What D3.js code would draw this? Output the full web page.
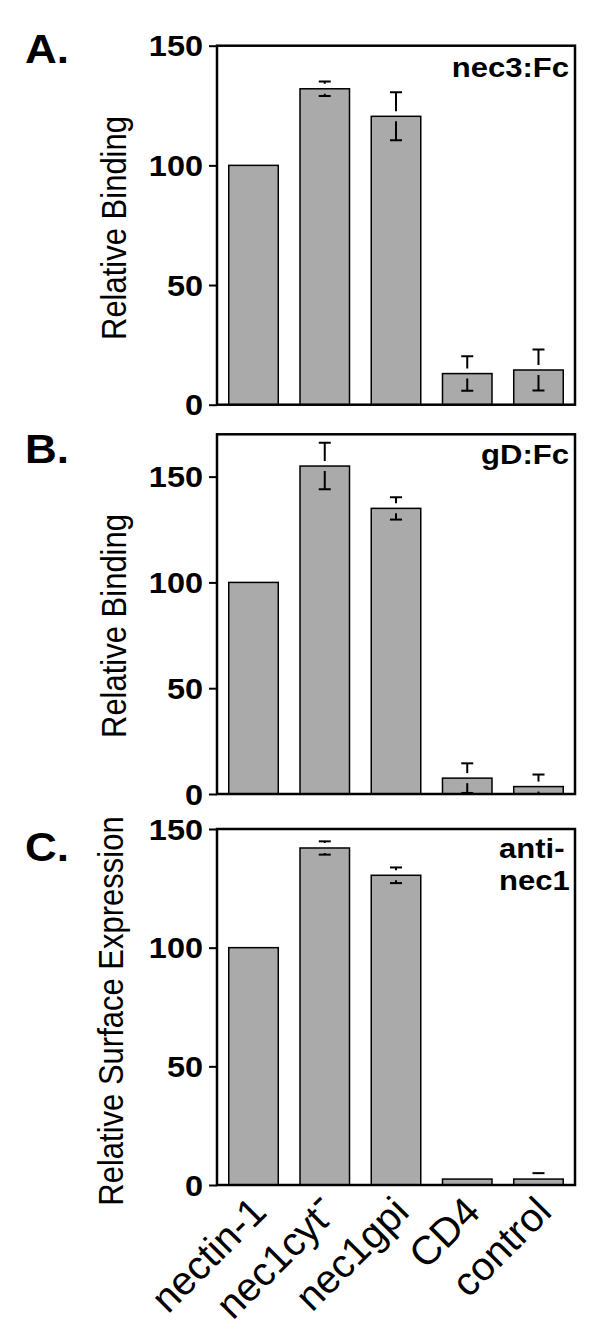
<!DOCTYPE html>
<html>
<head>
<meta charset="utf-8">
<script src="https://cdn.jsdelivr.net/npm/d3@7"></script>
<style>
  html, body { margin: 0; padding: 0; background: #fff; }
  svg { display: block; font-family: "Liberation Sans", Arial, Helvetica, sans-serif; }
</style>
</head>
<body>
<svg id="chart" width="605" height="1336"></svg>
<script>
// ---------- data ----------
const categories = ["nectin-1", "nec1cyt-", "nec1gpi", "CD4", "control"];
const yTicks = [0, 50, 100, 150];

const valuesA = [100, 132, 120.5, 13, 14.5];
const errorsA = [0, 3, 10, 7.2, 8.6];
const valuesB = [100, 155, 135, 7.5, 3.5];
const errorsB = [0, 11, 5.3, 7, 5.7];
const valuesC = [100, 142, 130.5, 2.5, 2.5];
const errorsC = [0, 2.8, 3.3, 0, 2.5];

const panelLetters = ["A.", "B.", "C."];
const yTitles = ["Relative Binding", "Relative Binding", "Relative Surface Expression"];
const annotations = [["nec3:Fc"], ["gD:Fc"], ["anti-", "nec1"]];
const yMaxes = [150, 170, 150];

// ---------- layout ----------
const svg = d3.select("#chart");
const FRAME_L = 217, FRAME_R = 575;
const panels = [
  { top: 45.7, bottom: 404.7, values: valuesA, errors: errorsA, titleX: 126, titleY: 228, letterY: 63, annY: 77, annAnchor: "end" },
  { top: 434.3, bottom: 794, values: valuesB, errors: errorsB, titleX: 126, titleY: 626, letterY: 463, annY: 464, annAnchor: "end" },
  { top: 829, bottom: 1185, values: valuesC, errors: errorsC, titleX: 123, titleY: 1011, letterY: 861, annY: 858, annAnchor: "start" }
];
const SX = 1.12; // horizontal stretch of the original typography

const x = d3.scaleBand().domain(categories).range([FRAME_L, FRAME_R])
  .paddingInner(0.305).paddingOuter(0.165);

panels.forEach((p, i) => {
  const y = d3.scaleLinear().domain([0, yMaxes[i]]).range([p.bottom, p.top]);
  const g = svg.append("g");

  const clipId = "clip" + i;
  g.append("clipPath").attr("id", clipId)
    .append("rect").attr("x", FRAME_L).attr("y", p.top)
    .attr("width", FRAME_R - FRAME_L).attr("height", p.bottom - p.top);

  const rows = categories.map((c, k) => ({ c, v: p.values[k], e: p.errors[k] }));

  // bars
  g.selectAll("rect.bar").data(rows).enter().append("rect")
    .attr("class", "bar")
    .attr("x", d => x(d.c))
    .attr("width", x.bandwidth())
    .attr("y", d => y(d.v))
    .attr("height", d => y(0) - y(d.v))
    .attr("fill", "#aaaaaa")
    .attr("stroke", "#000")
    .attr("stroke-width", 1.5);

  // error bars (with small gap at bar edge as in original)
  const GAP = 5, CAP = 12;
  const eg = g.append("g").attr("clip-path", `url(#${clipId})`)
    .attr("stroke", "#000").attr("stroke-width", 2);
  rows.filter(d => d.e > 0).forEach(d => {
    const cx = x(d.c) + x.bandwidth() / 2;
    const yTop = y(d.v + d.e), yBar = y(d.v), yBot = y(d.v - d.e);
    if (yBar - GAP > yTop) eg.append("line").attr("x1", cx).attr("x2", cx).attr("y1", yTop).attr("y2", yBar - GAP);
    if (yBar + GAP < yBot) eg.append("line").attr("x1", cx).attr("x2", cx).attr("y1", yBar + GAP).attr("y2", yBot);
    eg.append("line").attr("x1", cx - CAP / 2).attr("x2", cx + CAP / 2).attr("y1", yTop).attr("y2", yTop);
    eg.append("line").attr("x1", cx - CAP / 2).attr("x2", cx + CAP / 2).attr("y1", yBot).attr("y2", yBot);
  });

  // y axis
  const ax = g.append("g").attr("transform", `translate(${FRAME_L},0)`)
    .call(d3.axisLeft(y).tickValues(yTicks).tickSize(8).tickPadding(6).tickFormat(d3.format("d")));
  ax.select(".domain").remove();
  ax.selectAll(".tick line").attr("stroke", "#000").attr("stroke-width", 2);
  ax.selectAll(".tick text")
    .attr("x", null).attr("dy", "0.35em")
    .attr("transform", `translate(-14,0) scale(${SX},1)`)
    .attr("fill", "#000")
    .style("font-size", "29px").style("font-weight", "bold")
    .style("font-family", "'Liberation Sans', Arial, Helvetica, sans-serif");

  // frame
  g.append("rect").attr("x", FRAME_L).attr("y", p.top)
    .attr("width", FRAME_R - FRAME_L).attr("height", p.bottom - p.top)
    .attr("fill", "none").attr("stroke", "#000").attr("stroke-width", 2.5);

  // y title
  g.append("text")
    .attr("transform", `translate(${p.titleX},${p.titleY}) scale(${SX},1) rotate(-90)`)
    .attr("text-anchor", "middle")
    .style("font-size", "31px")
    .text(yTitles[i]);

  // panel letter
  g.append("text")
    .attr("transform", `translate(25,${p.letterY}) scale(1.1,1)`)
    .style("font-size", "40px").style("font-weight", "bold")
    .text(panelLetters[i]);

  // annotation
  annotations[i].forEach((t, k) => {
    const ax0 = p.annAnchor === "end" ? 569 : 499;
    g.append("text")
      .attr("transform", `translate(${ax0},${p.annY + k * 32}) scale(1.15,1)`)
      .attr("text-anchor", p.annAnchor)
      .style("font-size", "27px").style("font-weight", "bold")
      .text(t);
  });

  // category labels only under last panel
  if (i === panels.length - 1) {
    const lg = g.append("g");
    categories.forEach(c => {
      const cx = x(c) + x.bandwidth() / 2;
      const t = lg.append("text")
        .attr("transform", `translate(${cx + 15},${p.bottom + 29}) rotate(-45)`)
        .attr("text-anchor", "end")
        .style("font-size", "40px");
      if (c.endsWith("-") && c !== "nectin-1") {
        t.append("tspan").text(c.slice(0, -1));
        t.append("tspan").attr("baseline-shift", "35%").text("-");
      } else {
        t.text(c);
      }
    });
  }
});
</script>
</body>
</html>
